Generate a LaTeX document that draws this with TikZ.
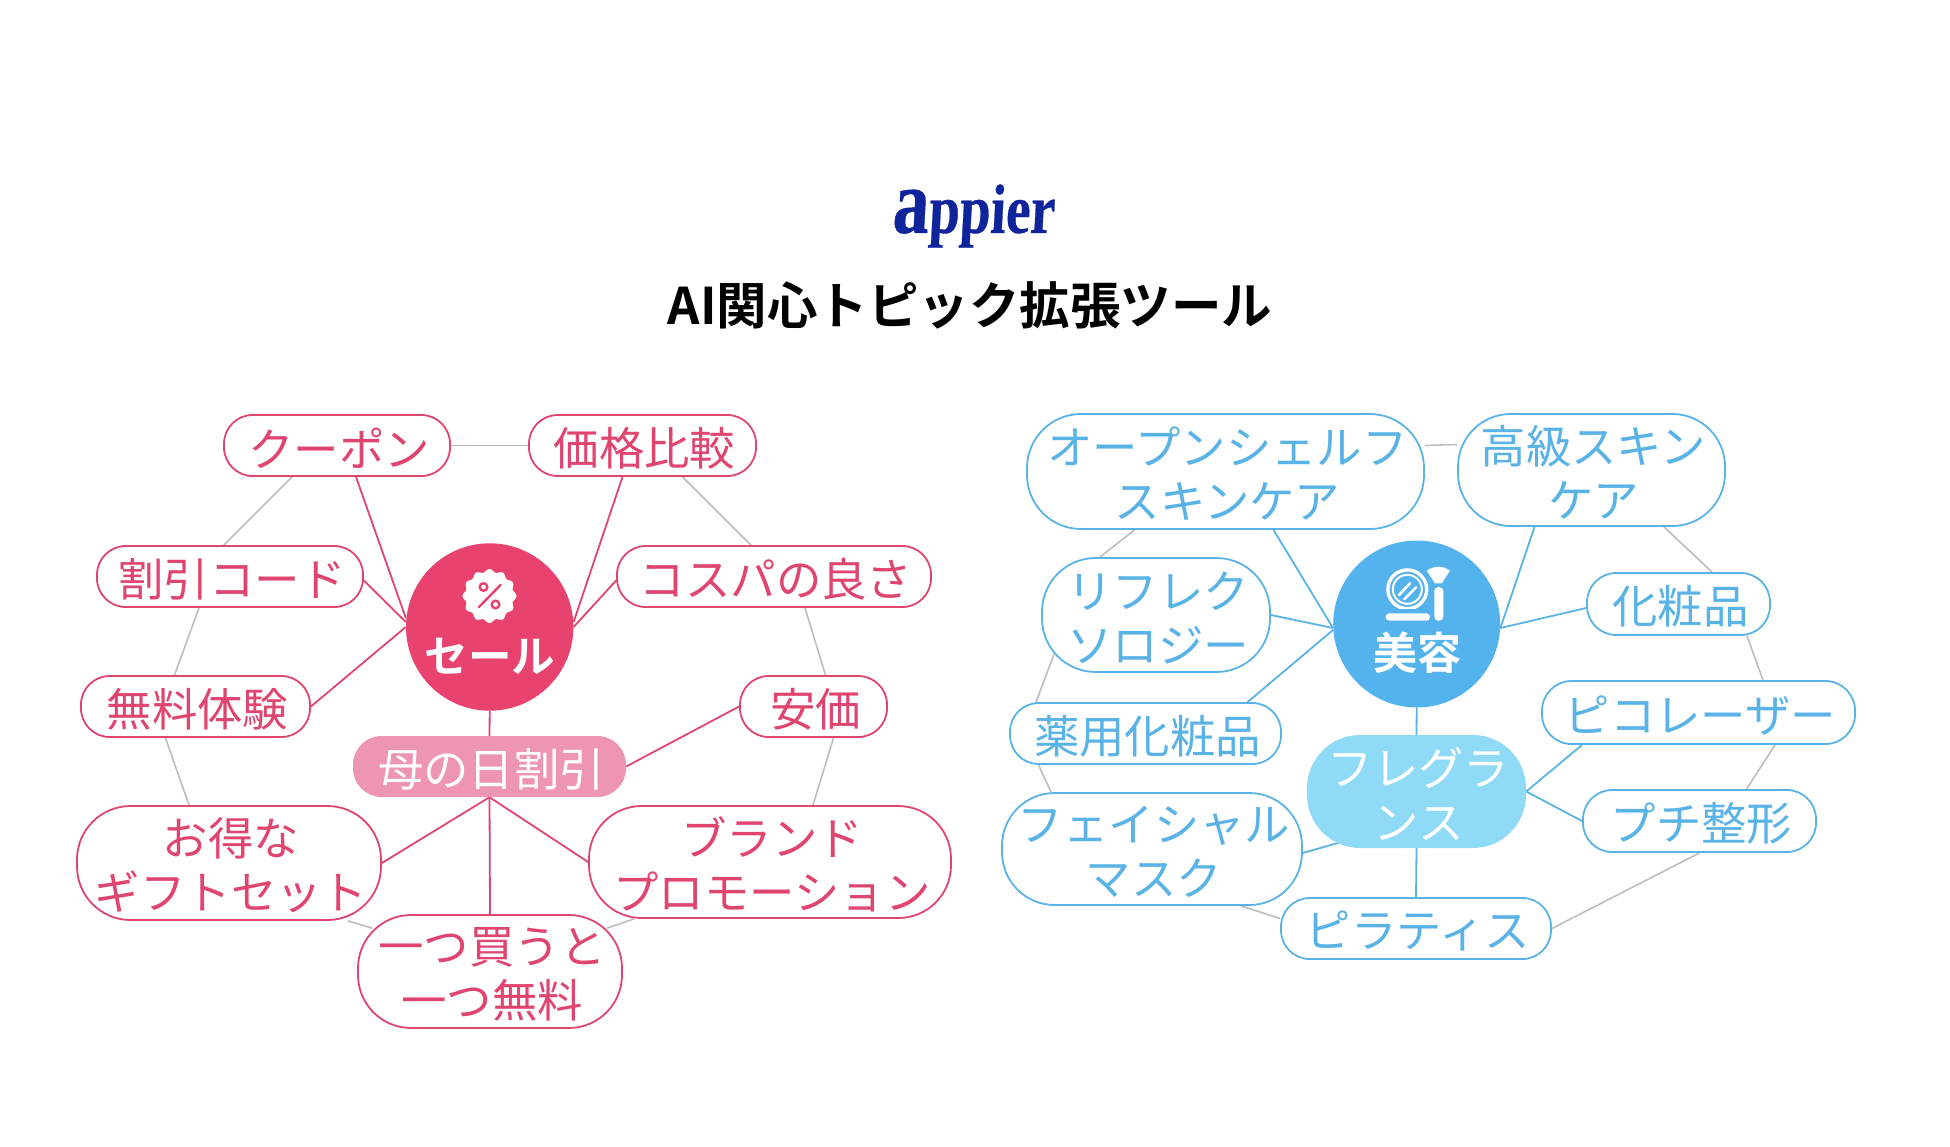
\documentclass[tikz,border=0pt]{standalone}
\usepackage{fontspec}
\usetikzlibrary{backgrounds}
\setmainfont{Liberation Serif}
\newfontfamily\jp{Noto Sans CJK JP}
\newfontfamily\jpb{Noto Sans CJK JP Bold}
\newfontfamily\logofont[FakeSlant=0.07,FakeBold=0.5]{Liberation Serif Bold}
\definecolor{pinkc}{HTML}{E8426E}
\definecolor{pinkt}{HTML}{E0456F}
\definecolor{pinkl}{HTML}{EE95B2}
\definecolor{bluec}{HTML}{54B2EC}
\definecolor{bluet}{HTML}{5AB3E6}
\definecolor{bluel}{HTML}{8FDAF7}
\definecolor{ringc}{HTML}{BDBDBD}
\definecolor{logoc}{HTML}{0F239B}
\tikzset{
  pillbase/.style={inner sep=0pt,font=\jp\fontsize{45.4}{54}\selectfont},
  pillp/.style={pillbase,draw=pinkt,line width=1.8pt,fill=white,text=pinkt},
  pillb/.style={pillbase,draw=bluet,line width=1.8pt,fill=white,text=bluet},
  pillpf/.style={pillbase,fill=pinkl,text=white},
  pillbf/.style={pillbase,fill=bluel,text=white},
  hubp/.style={circle,fill=pinkc,minimum size=167.4pt,inner sep=0pt},
  hubb/.style={circle,fill=bluec,minimum size=167pt,inner sep=0pt},
  linkp/.style={draw=pinkt,line width=1.8pt},
  linkb/.style={draw=bluet,line width=1.8pt},
  ring/.style={draw=ringc,line width=1.6pt},
  titletext/.style={inner sep=0pt,text=black,font=\jpb\fontsize{50.5}{60}\selectfont},
  hubtext/.style={inner sep=0pt,text=white,font=\jpb\fontsize{43.5}{50}\selectfont},
  logotext/.style={inner sep=0pt,text=logoc,font=\logofont}
}
\newcommand{\pilltext}[2]{\raisebox{-2.6pt}[\height][\depth]{\hspace*{4pt}\parbox{#1 pt}{\centering #2}}}
\newcommand{\pill}[7]{%
  \pgfmathsetmacro{\pw}{#5-#3}\pgfmathsetmacro{\ph}{#6-#4}%
  \pgfmathsetmacro{\px}{(#3+#5)/2}\pgfmathsetmacro{\py}{(#4+#6)/2}%
  \pgfmathsetmacro{\pr}{0.47*\ph}\pgfmathsetmacro{\pt}{\pw-10}%
  \node[#1,minimum width=\pw pt,minimum height=\ph pt,rounded corners=\pr pt] (#2) at (\px,\py) {\pilltext{\pt}{#7}};%
}
\begin{document}
\begin{tikzpicture}[x=1pt,y=-1pt]
\useasboundingbox (0,0) rectangle (1950,1146);
% heading
\node[logotext] (logo) at (973,216) {\scalebox{0.79}[1]{\fontsize{92}{92}\selectfont a\fontsize{70}{70}\selectfont ppier}};
\node[titletext] (title) at (970,305) {AI関心トピック拡張ツール};
% left nodes
\node[hubp] (sale) at (489.7,627) {};
\pill{pillp}{kupon}{224}{415}{450}{476}{クーポン}
\pill{pillp}{kakaku}{529}{415}{756}{476}{価格比較}
\pill{pillp}{waribiki}{97}{546}{363}{607}{割引コード}
\pill{pillp}{cospa}{617}{546}{931}{607}{コスパの良さ}
\pill{pillp}{muryo}{81}{676}{310}{737}{無料体験}
\pill{pillp}{anka}{740}{676}{887}{737}{安価}
\pill{pillpf}{haha}{353}{736}{626}{797}{母の日割引}
\pill{pillp}{otoku}{77}{806}{381}{920}{お得な\\ギフトセット}
\pill{pillp}{brand}{589}{806}{951}{918}{ブランド\\プロモーション}
\pill{pillp}{hitotsu}{358}{915}{622}{1028}{一つ買うと\\一つ無料}
\node[hubtext] (saletext) at (490,656.5) {セール};
% right nodes
\node[hubb] (bi) at (1416.7,624) {};
\pill{pillb}{open}{1027}{414}{1424}{529}{オープンシェルフ\\スキンケア}
\pill{pillb}{koukyu}{1458}{414}{1725}{526}{高級スキン\\ケア}
\pill{pillb}{reflex}{1042}{558}{1270}{672}{リフレク\\ソロジー}
\pill{pillb}{keshou}{1587}{573}{1770}{635}{化粧品}
\pill{pillb}{yakuyo}{1010}{703}{1281}{764}{薬用化粧品}
\pill{pillb}{pico}{1542}{681}{1855}{744}{ピコレーザー}
\pill{pillbf}{frag}{1307}{735}{1526}{848}{フレグラ\\ンス}
\pill{pillb}{petit}{1583}{790}{1816}{852}{プチ整形}
\pill{pillb}{facial}{1002}{793}{1302}{905}{フェイシャル\\マスク}
\pill{pillb}{pilates}{1281}{898}{1551}{959}{ピラティス}
\node[hubtext,font=\jpb\fontsize{44}{50}\selectfont] (bitext) at (1417,653) {美容};
% percent badge
\fill[white] plot[domain=0:360,samples=97,smooth cycle] ({489.5+(25.5+1.5*cos(12*\x))*cos(\x)},{596+(25.5+1.5*cos(12*\x))*sin(\x)});
\draw[pinkc,line width=2.4pt] (483.5,587) circle (3.8pt) (495.5,604.5) circle (3.8pt);
\draw[pinkc,line width=2.4pt,line cap=round] (479,607) -- (500.5,585);
% compact and brush
\begin{scope}
\clip (1380,560) rectangle (1432,608.5);
\draw[white,line width=3.4pt] (1407.3,589.3) circle (19.4pt);
\end{scope}
\draw[white,line width=2pt] (1407.3,589.3) circle (14.5pt);
\draw[white,line width=2.6pt,line cap=round] (1399,595) -- (1410,583.3) (1404.3,599.3) -- (1416,587.3);
\fill[white,rounded corners=3.5pt] (1385.7,613.3) rectangle (1430,620.7);
\fill[white,rounded corners=4pt] (1434.3,587) rectangle (1443.3,620.7);
\fill[white] (1426.7,570.7) .. controls (1434,565.5) and (1443,565.5) .. (1450,570.7) -- (1441.7,583.3) -- (1435,583.3) -- cycle;
% connectors
\begin{scope}[on background layer]
\draw[linkp] ([xshift=19pt]kupon.south) -- ([yshift=9pt]sale.west);
\draw[linkp] ([yshift=-4pt]waribiki.east) -- ([yshift=5pt]sale.west);
\draw[linkp] (muryo.east) -- (sale.west);
\draw[linkp] ([xshift=-20pt]kakaku.south) -- ([yshift=5pt]sale.east);
\draw[linkp] ([yshift=-4pt]cospa.west) -- (sale.east);
\draw[linkp] (sale.south) -- (haha.north);
\draw[linkp] (haha.east) -- (anka.west);
\draw[linkp] (haha.south) -- (otoku.east);
\draw[linkp] (haha.south) -- (hitotsu.north);
\draw[linkp] (haha.south) -- (brand.west);
\draw[ring] (kupon.east) -- (kakaku.west);
\draw[ring] ([xshift=-45pt]kupon.south) -- ([xshift=-6pt]waribiki.north);
\draw[ring] ([xshift=-31pt]waribiki.south) -- ([xshift=-21pt]muryo.north);
\draw[ring] ([xshift=-30pt]muryo.south) -- ([xshift=-40pt]otoku.north);
\draw[ring] ([xshift=119pt]otoku.south) -- ([xshift=15pt,yshift=-14pt]hitotsu.north west);
\draw[ring] ([xshift=-16pt,yshift=-14pt]hitotsu.north east) -- ([xshift=-136pt]brand.south);
\draw[ring] ([xshift=43pt]brand.north) -- ([xshift=20pt]anka.south);
\draw[ring] ([xshift=12pt]anka.north) -- ([xshift=31pt]cospa.south);
\draw[ring] ([xshift=-23pt]cospa.north) -- ([xshift=40pt]kakaku.south);
\draw[linkb] ([xshift=48pt]open.south) -- ([yshift=-4pt]bi.west);
\draw[linkb] ([xshift=-57pt]koukyu.south) -- ([yshift=-4pt]bi.east);
\draw[linkb] (reflex.east) -- ([yshift=-4pt]bi.west);
\draw[linkb] ([yshift=-4pt]keshou.west) -- ([yshift=-4pt]bi.east);
\draw[linkb] ([xshift=102pt]yakuyo.north) -- ([yshift=-6pt]bi.west);
\draw[linkb] (bi.south) -- (frag.north);
\draw[linkb] (frag.east) -- ([xshift=-116.5pt]pico.south);
\draw[linkb] (frag.east) -- (petit.west);
\draw[linkb] ([xshift=-76pt,yshift=6pt]frag.south) -- ([yshift=-4pt]facial.east);
\draw[linkb] (frag.south) -- (pilates.north);
\draw[ring] ([yshift=26pt]open.east) -- ([yshift=25.5pt]koukyu.west);
\draw[ring] ([xshift=-91pt]open.south) -- ([xshift=-56pt]reflex.north);
\draw[ring] ([xshift=13pt,yshift=19pt]reflex.south west) -- ([xshift=-109.5pt]yakuyo.north);
\draw[ring] ([xshift=-107pt]yakuyo.south) -- ([xshift=-101pt]facial.north);
\draw[ring] ([xshift=89pt]facial.south) -- ([yshift=10pt]pilates.west);
\draw[ring] (pilates.east) -- (petit.south);
\draw[ring] ([xshift=47pt]petit.north) -- ([xshift=76.5pt]pico.south);
\draw[ring] ([xshift=64.5pt]pico.north) -- ([xshift=68.5pt]keshou.south);
\draw[ring] ([xshift=33.5pt]keshou.north) -- ([xshift=72.5pt]koukyu.south);
\end{scope}
\end{tikzpicture}
\end{document}
